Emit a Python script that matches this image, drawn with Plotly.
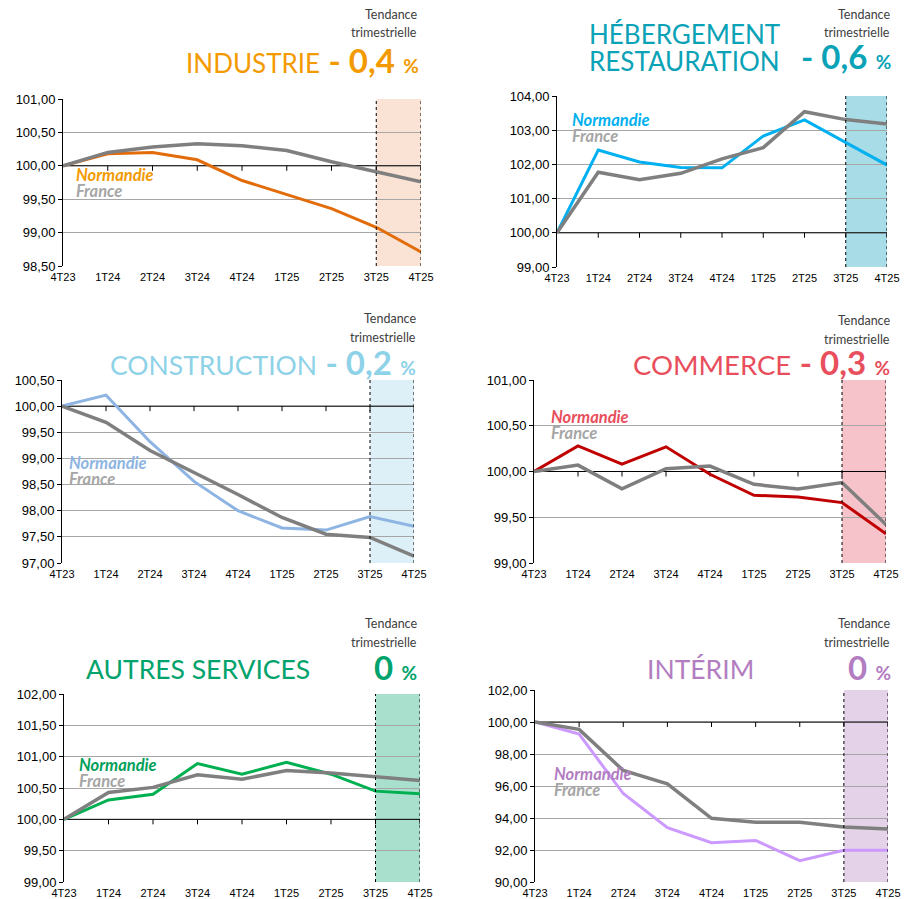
import plotly.graph_objects as go

W, H = 912, 899

quarters = ["4T23", "1T24", "2T24", "3T24", "4T24", "1T25", "2T25", "3T25", "4T25"]

industrie_normandie = [100.00, 100.18, 100.20, 100.09, 99.78, 99.57, 99.36, 99.08, 98.71]
industrie_france = [100.00, 100.20, 100.28, 100.33, 100.30, 100.23, 100.06, 99.91, 99.76]
hebergement_normandie = [100.00, 102.42, 102.07, 101.91, 101.90, 102.83, 103.30, 102.63, 101.98]
hebergement_france = [100.00, 101.77, 101.55, 101.74, 102.16, 102.49, 103.54, 103.31, 103.18]
construction_normandie = [100.00, 100.21, 99.32, 98.56, 98.00, 97.67, 97.63, 97.89, 97.70]
construction_france = [100.00, 99.69, 99.15, 98.73, 98.31, 97.87, 97.55, 97.49, 97.13]
commerce_normandie = [100.00, 100.28, 100.08, 100.27, 99.97, 99.74, 99.72, 99.66, 99.32]
commerce_france = [100.00, 100.07, 99.81, 100.03, 100.06, 99.86, 99.81, 99.88, 99.42]
autres_normandie = [100.00, 100.31, 100.40, 100.89, 100.72, 100.91, 100.72, 100.45, 100.41]
autres_france = [100.00, 100.43, 100.51, 100.71, 100.64, 100.78, 100.74, 100.68, 100.62]
interim_normandie = [100.00, 99.24, 95.53, 93.40, 92.46, 92.60, 91.33, 91.98, 91.98]
interim_france = [100.00, 99.54, 96.97, 96.13, 93.98, 93.73, 93.73, 93.44, 93.32]

sector_titles = ["INDUSTRIE", "HÉBERGEMENT<br>RESTAURATION", "CONSTRUCTION",
                 "COMMERCE", "AUTRES SERVICES", "INTÉRIM"]
trend_values = ["- 0,4", "- 0,6", "- 0,2", "- 0,3", "0", "0"]
y_ranges = [(98.5, 101.0), (99.0, 104.0), (97.0, 100.5), (99.0, 101.0), (99.0, 102.0), (90.0, 102.0)]
y_dticks = [0.5, 1.0, 0.5, 0.5, 0.5, 2.0]
normandie_series = [industrie_normandie, hebergement_normandie, construction_normandie,
                    commerce_normandie, autres_normandie, interim_normandie]
france_series = [industrie_france, hebergement_france, construction_france,
                 commerce_france, autres_france, interim_france]

# styles
title_colors = ["#F39A00", "#0AA2B6", "#8ED2E8", "#E84E5C", "#00A36C", "#B27DC1"]
title_sizes = [26, 26, 26.5, 27.5, 26.5, 26.5]
line_colors = ["#E36C0A", "#00B0F0", "#8DB4E2", "#C00000", "#00B050", "#CC99FF"]
label_colors = ["#F39A00", "#00B0F0", "#8DB4E2", "#E84E5C", "#00A05A", "#B27DC1"]
shade_colors = ["#FAE2D4", "#A8DCE7", "#DDF0F8", "#F5C3C9", "#A9DFCD", "#E4D3E8"]
france_color = "#7F7F7F"
france_label = "#A6A6A6"

# plot boxes in pixels: x0, x1, ytop, ybottom
boxes = [(63, 421, 99, 266), (557, 887, 96, 267), (62, 414, 380, 563),
         (534, 886, 380, 563), (64, 420, 694, 882), (535, 888, 690, 882)]
legend_pos = [(74, 175), (570, 120), (67, 463), (549, 417), (77, 765), (552, 774)]


def px(x):
    return x / W


def py(y):
    return 1 - y / H


fig = go.Figure()
shapes = []
annotations = []
TITLE_FONT = "Lato"
TICK_FONT = "Liberation Sans"

i_band0 = quarters.index("3T25")
i_band1 = quarters.index("4T25")

for k in range(6):
    x0, x1, yt, yb = boxes[k]
    sfx = "" if k == 0 else str(k + 1)
    xa = "x" + sfx
    ya = "y" + sfx
    fig.add_trace(go.Scatter(x=quarters, y=normandie_series[k], mode="lines",
                             line=dict(color=line_colors[k], width=3),
                             xaxis=xa, yaxis=ya, showlegend=False, hoverinfo="skip"))
    fig.add_trace(go.Scatter(x=quarters, y=france_series[k], mode="lines",
                             line=dict(color=france_color, width=3.5),
                             xaxis=xa, yaxis=ya, showlegend=False, hoverinfo="skip"))
    fig.layout["xaxis" + sfx] = dict(
        domain=[px(x0), px(x1)], anchor=ya, type="category", automargin=False,
        range=[0, len(quarters) - 1], showgrid=False, showline=False, zeroline=False,
        ticks="", tickfont=dict(family=TICK_FONT, size=11, color="#000"),
        ticklabelstandoff=3, fixedrange=True)
    fig.layout["yaxis" + sfx] = dict(
        domain=[py(yb), py(yt)], anchor=xa, range=list(y_ranges[k]), automargin=False,
        dtick=y_dticks[k], tick0=y_ranges[k][0], tickformat=".2f",
        showgrid=True, gridcolor="#A6A6A6", gridwidth=1,
        showline=True, linecolor="#000", linewidth=1,
        ticks="outside", ticklen=4, tickcolor="#000", zeroline=False,
        tickfont=dict(family=TICK_FONT, size=13, color="#000"), fixedrange=True)

    # shaded band for the last quarter
    shapes.append(dict(type="rect", xref=xa, yref=ya + " domain", x0=i_band0, x1=i_band1,
                       y0=0, y1=1, fillcolor=shade_colors[k], line=dict(width=0), layer="below"))
    # base 100 line
    shapes.append(dict(type="line", xref=xa, yref=ya, x0=0, x1=len(quarters) - 1,
                       y0=100, y1=100, line=dict(color="#000", width=1), layer="between"))
    for qi in range(1, len(quarters)):
        shapes.append(dict(type="line", xref=xa, yref=ya, x0=qi, x1=qi,
                           ysizemode="pixel", yanchor=100, y0=-5, y1=0,
                           line=dict(color="#000", width=1), layer="between"))
    for qi in (i_band0, i_band1):
        shapes.append(dict(type="line", xref=xa, yref=ya + " domain", x0=qi, x1=qi,
                           y0=0, y1=1, line=dict(color="#000", width=1, dash="dot"),
                           layer="above"))

    # legend-like labels
    lx, ly = legend_pos[k]
    annotations.append(dict(x=px(lx), y=py(ly), xref="paper", yref="paper",
                            xanchor="left", yanchor="middle", showarrow=False,
                            text="<b><i>Normandie</i></b>",
                            font=dict(family=TITLE_FONT, size=16.5, color=label_colors[k])))
    annotations.append(dict(x=px(lx), y=py(ly + 16), xref="paper", yref="paper",
                            xanchor="left", yanchor="middle", showarrow=False,
                            text="<b><i>France</i></b>",
                            font=dict(family=TITLE_FONT, size=16.5, color=france_label)))

# "Tendance trimestrielle" captions
tend_pos = [(419, 14), (892, 14), (418, 318), (892, 320), (419, 623), (892, 623)]
for (tx, ty) in tend_pos:
    annotations.append(dict(x=px(tx), y=py(ty), xref="paper", yref="paper", xanchor="right",
                            yanchor="middle", showarrow=False, text="Tendance",
                            font=dict(family=TITLE_FONT, size=12.5, color="#404040")))
    annotations.append(dict(x=px(tx), y=py(ty + 19), xref="paper", yref="paper", xanchor="right",
                            yanchor="middle", showarrow=False, text="trimestrielle",
                            font=dict(family=TITLE_FONT, size=12.5, color="#404040")))


def trend_html(v):
    return "<b>" + v + "</b> <span style='font-size:19px'><b>%</b></span>"


# Titles
# single-line with trend: industrie, construction, commerce
for k, (rx, cy) in zip([0, 2, 3], [(421, 60), (418, 362), (892, 362)]):
    annotations.append(dict(x=px(rx), y=py(cy), xref="paper", yref="paper", xanchor="right",
                            yanchor="middle", showarrow=False,
                            text="<span style='font-size:%spx'>" % title_sizes[k]
                                 + sector_titles[k] + "</span> " + trend_html(trend_values[k]),
                            font=dict(family=TITLE_FONT, size=33, color=title_colors[k])))
# hébergement
heb_lines = sector_titles[1].split("<br>")
for line, cy in zip(heb_lines, [34, 61]):
    annotations.append(dict(x=px(782), y=py(cy), xref="paper", yref="paper", xanchor="right",
                            yanchor="middle", showarrow=False, text=line,
                            font=dict(family=TITLE_FONT, size=title_sizes[1], color=title_colors[1])))
annotations.append(dict(x=px(893), y=py(56), xref="paper", yref="paper", xanchor="right",
                        yanchor="middle", showarrow=False, text=trend_html(trend_values[1]),
                        font=dict(family=TITLE_FONT, size=33, color=title_colors[1])))
# autres services & intérim
for k, (cx, rx) in zip([4, 5], [(198, 419), (700, 893)]):
    annotations.append(dict(x=px(cx), y=py(669), xref="paper", yref="paper", xanchor="center",
                            yanchor="middle", showarrow=False, text=sector_titles[k],
                            font=dict(family=TITLE_FONT, size=title_sizes[k], color=title_colors[k])))
    annotations.append(dict(x=px(rx), y=py(667), xref="paper", yref="paper", xanchor="right",
                            yanchor="middle", showarrow=False, text=trend_html(trend_values[k]),
                            font=dict(family=TITLE_FONT, size=33, color=title_colors[k])))

fig.update_layout(width=W, height=H, margin=dict(l=0, r=0, t=0, b=0, autoexpand=False),
                  paper_bgcolor="white", plot_bgcolor="white", separators=", ",
                  shapes=shapes, annotations=annotations, showlegend=False)

fig.write_html("out.html", config={"displayModeBar": False},
               post_script="document.body.style.margin='0';document.body.style.overflow='hidden';")
